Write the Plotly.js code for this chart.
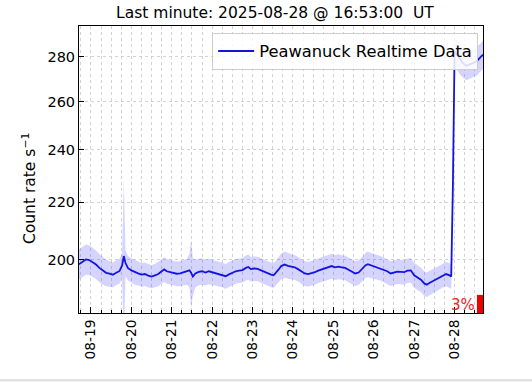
<!DOCTYPE html>
<html>
<head>
<meta charset="utf-8">
<script src="https://cdn.plot.ly/plotly-3.0.1.min.js"></script>
<style>html,body{margin:0;padding:0;background:#fff;}#chart{width:532px;height:382px;}</style>
</head>
<body>
<div id="chart"></div>
<script>
// ---- data ----
const times = [
  '2025-08-18 16:53','2025-08-18 19:00','2025-08-18 21:00','2025-08-18 23:00',
  '2025-08-19 01:00','2025-08-19 03:00','2025-08-19 05:00','2025-08-19 07:00','2025-08-19 09:00','2025-08-19 11:00','2025-08-19 13:00','2025-08-19 15:00','2025-08-19 17:00','2025-08-19 18:30','2025-08-19 19:30','2025-08-19 20:30','2025-08-19 22:00',
  '2025-08-20 00:00','2025-08-20 02:00','2025-08-20 04:00','2025-08-20 06:00','2025-08-20 08:00','2025-08-20 10:00','2025-08-20 12:00','2025-08-20 14:00','2025-08-20 16:00','2025-08-20 18:00','2025-08-20 19:30','2025-08-20 21:00','2025-08-20 23:00',
  '2025-08-21 01:00','2025-08-21 03:00','2025-08-21 05:00','2025-08-21 07:00','2025-08-21 09:00','2025-08-21 10:30','2025-08-21 11:30','2025-08-21 12:30','2025-08-21 14:00','2025-08-21 16:00','2025-08-21 18:00','2025-08-21 20:00','2025-08-21 22:00',
  '2025-08-22 00:00','2025-08-22 02:00','2025-08-22 04:00','2025-08-22 06:00','2025-08-22 08:00','2025-08-22 10:00','2025-08-22 12:00','2025-08-22 14:00','2025-08-22 16:00','2025-08-22 18:00','2025-08-22 20:00','2025-08-22 21:30','2025-08-22 23:00',
  '2025-08-23 01:00','2025-08-23 03:00','2025-08-23 05:00','2025-08-23 07:00','2025-08-23 09:00','2025-08-23 11:00','2025-08-23 12:30','2025-08-23 14:00','2025-08-23 15:30','2025-08-23 17:00','2025-08-23 19:00','2025-08-23 21:00','2025-08-23 23:00',
  '2025-08-24 01:00','2025-08-24 03:00','2025-08-24 05:00','2025-08-24 07:00','2025-08-24 09:00','2025-08-24 11:00','2025-08-24 13:00','2025-08-24 15:00','2025-08-24 17:00','2025-08-24 19:00','2025-08-24 21:00','2025-08-24 23:00',
  '2025-08-25 01:00','2025-08-25 03:00','2025-08-25 05:00','2025-08-25 07:00','2025-08-25 09:00','2025-08-25 11:00','2025-08-25 13:00','2025-08-25 15:00','2025-08-25 17:00','2025-08-25 19:00','2025-08-25 20:30','2025-08-25 22:00',
  '2025-08-26 00:00','2025-08-26 02:00','2025-08-26 04:00','2025-08-26 06:00','2025-08-26 08:00','2025-08-26 10:00','2025-08-26 12:00','2025-08-26 14:00','2025-08-26 16:00','2025-08-26 18:00','2025-08-26 20:00','2025-08-26 22:00',
  '2025-08-27 00:00','2025-08-27 02:00','2025-08-27 04:00','2025-08-27 06:00','2025-08-27 07:30','2025-08-27 09:00','2025-08-27 11:00','2025-08-27 13:00','2025-08-27 15:00','2025-08-27 17:00','2025-08-27 19:00','2025-08-27 21:00','2025-08-27 22:00','2025-08-27 23:00',
  '2025-08-28 00:00','2025-08-28 01:30','2025-08-28 03:00','2025-08-28 05:00','2025-08-28 07:00','2025-08-28 09:00','2025-08-28 11:00','2025-08-28 13:00','2025-08-28 15:00','2025-08-28 16:53'
];
const counts = [
  198.6,199.5,200.2,200.0,
  199.3,198.5,197.4,196.5,195.8,195.5,195.2,195.8,196.4,198.2,201.3,199.0,197.3,
  196.6,196.0,195.6,195.2,195.4,194.9,194.6,195.0,195.4,196.3,196.9,196.3,196.0,
  195.8,195.5,195.6,195.9,196.2,196.6,195.8,194.6,195.6,196.1,196.3,195.9,196.3,
  196.0,195.7,195.4,195.2,194.7,195.3,195.9,196.3,196.5,196.7,197.4,197.7,197.0,
  197.2,197.1,196.6,196.0,195.6,195.2,195.0,195.8,196.9,198.0,198.5,198.1,197.8,
  197.6,197.0,196.3,195.6,195.4,195.6,196.0,196.5,196.9,197.2,197.7,198.0,
  197.6,197.8,197.6,197.4,196.8,196.2,195.6,195.9,196.9,198.2,198.6,198.3,
  198.0,197.7,197.3,196.8,196.3,195.6,195.9,196.2,196.1,196.0,196.5,196.6,
  195.0,194.2,193.6,192.4,192.0,192.5,193.1,193.8,194.4,195.0,195.4,195.0,194.6,226.0,
  282.5,281.0,279.0,277.0,275.8,276.5,277.0,277.8,279.5,281.0
];
const errs = [
  5.0,5.0,5.0,4.9,
  4.8,4.7,4.6,4.5,4.3,4.2,4.0,4.0,4.0,4.0,27.0,4.2,4.0,
  4.0,4.0,3.9,3.8,3.8,3.8,3.7,3.8,3.9,4.0,4.0,4.0,4.0,
  4.0,4.0,4.0,4.0,4.2,5.5,11.0,6.0,4.5,4.3,4.3,4.2,4.2,
  4.1,4.0,4.0,4.0,4.0,4.0,4.0,4.0,4.0,4.0,4.1,4.1,4.0,
  4.0,4.0,4.0,4.0,4.0,4.0,4.0,4.0,4.1,4.2,4.3,4.2,4.1,
  4.1,4.0,4.0,4.0,4.0,4.0,4.0,4.0,4.0,4.0,4.1,4.1,
  4.1,4.1,4.0,4.0,4.0,4.0,4.0,4.0,4.0,4.1,4.2,4.1,
  4.1,4.0,4.0,4.0,4.0,4.0,4.0,4.0,4.0,4.0,4.0,4.0,
  4.0,4.0,3.9,3.9,3.9,3.9,3.9,3.9,3.9,3.9,3.9,3.9,3.9,4.5,
  7.0,7.0,7.0,6.5,6.5,6.5,6.5,6.5,6.5,6.5
];
const yTicks = [200, 220, 240, 260, 280];
const seriesName = 'Peawanuck Realtime Data';
const lastMinute = '2025-08-28 @ 16:53:00';
const yTitle = 'Count rate s<sup>−1</sup>';
const completenessPct = 3;
const xStart = '2025-08-18 16:53';
const xEnd = '2025-08-28 16:53';

if (times.length !== counts.length || counts.length !== errs.length) {
  console.error('length mismatch', times.length, counts.length, errs.length);
}

const upper = counts.map((v, i) => v + errs[i]);
const lower = counts.map((v, i) => v - errs[i]);

const FONT = 'DejaVu Sans, Liberation Sans, sans-serif';
const gridCol = '#d2d2d2';

const traces = [
  {x: times, y: upper, mode: 'lines', line: {width: 0, color: 'rgba(0,0,255,0)'}, showlegend: false, hoverinfo: 'skip'},
  {x: times, y: lower, mode: 'lines', line: {width: 0, color: 'rgba(0,0,255,0)'}, fill: 'tonexty', fillcolor: 'rgba(60,60,255,0.22)', showlegend: false, hoverinfo: 'skip'},
  {x: times, y: counts, mode: 'lines', name: seriesName, line: {width: 1.8, color: 'rgb(20,20,225)'}}
];

const layout = {
  width: 532, height: 382,
  margin: {l: 79, r: 49, t: 26, b: 69},
  paper_bgcolor: '#fff', plot_bgcolor: '#fff',
  font: {family: FONT, color: '#000', size: 14},
  title: {text: 'Last minute: ' + lastMinute + '  UT', font: {family: FONT, size: 15.5, color: '#000'},
          x: 0.485, xref: 'paper', xanchor: 'center', y: 0.968, yref: 'container', yanchor: 'middle'},
  showlegend: true,
  legend: {x: 0.988, xanchor: 'right', y: 0.976, yanchor: 'top', bgcolor: 'rgba(255,255,255,0.85)',
           bordercolor: '#cccccc', borderwidth: 1, itemwidth: 36, font: {family: FONT, size: 16.3, color: '#000'}},
  xaxis: {
    type: 'date', range: [xStart, xEnd],
    dtick: 86400000, tick0: '2025-08-19 00:00', tickformat: '%m-%d', tickangle: -90,
    ticks: 'inside', ticklen: 6, tickcolor: '#000', tickwidth: 1,
    showgrid: true, gridcolor: gridCol, griddash: 'dot', gridwidth: 1,
    minor: {dtick: 21600000, ticks: 'inside', ticklen: 3, tickcolor: '#000', showgrid: true, gridcolor: gridCol, griddash: 'dot', gridwidth: 1},
    showline: true, linecolor: '#000', linewidth: 1, mirror: true,
    tickfont: {family: FONT, size: 13.8, color: '#000'}, zeroline: false
  },
  yaxis: {
    type: 'log', range: [Math.log10(183.2), Math.log10(294.6)],
    tickvals: yTicks, ticktext: yTicks.map(String),
    ticks: 'inside', ticklen: 5, tickcolor: '#000',
    showgrid: true, gridcolor: gridCol, griddash: 'dot', gridwidth: 1,
    showline: true, linecolor: '#000', linewidth: 1, mirror: true,
    tickfont: {family: FONT, size: 14.5, color: '#000'}, zeroline: false
  },
  shapes: [
    {type: 'rect', xref: 'paper', yref: 'paper', x0: 0.985, x1: 1.0, y0: 0, y1: 0.063, fillcolor: '#ee0000', line: {width: 0}},
    {type: 'line', xref: 'paper', yref: 'paper', x0: -0.2, x1: 1.13, y0: -0.234, y1: -0.234, line: {color: '#dddddd', width: 2}}
  ],
  annotations: [
    {text: completenessPct + '%', xref: 'paper', yref: 'paper', x: 0.984, y: 0.0, xanchor: 'right', yanchor: 'bottom',
     showarrow: false, font: {family: FONT, size: 15, color: '#ee2222'}, yshift: -3},
    {text: yTitle, textangle: -90, xref: 'paper', yref: 'paper', x: -0.124, y: 0.435, xanchor: 'center', yanchor: 'middle',
     showarrow: false, font: {family: FONT, size: 15.5, color: '#000'}}
  ]
};

Plotly.newPlot('chart', traces, layout, {displayModeBar: false, staticPlot: true});
</script>
</body>
</html>
